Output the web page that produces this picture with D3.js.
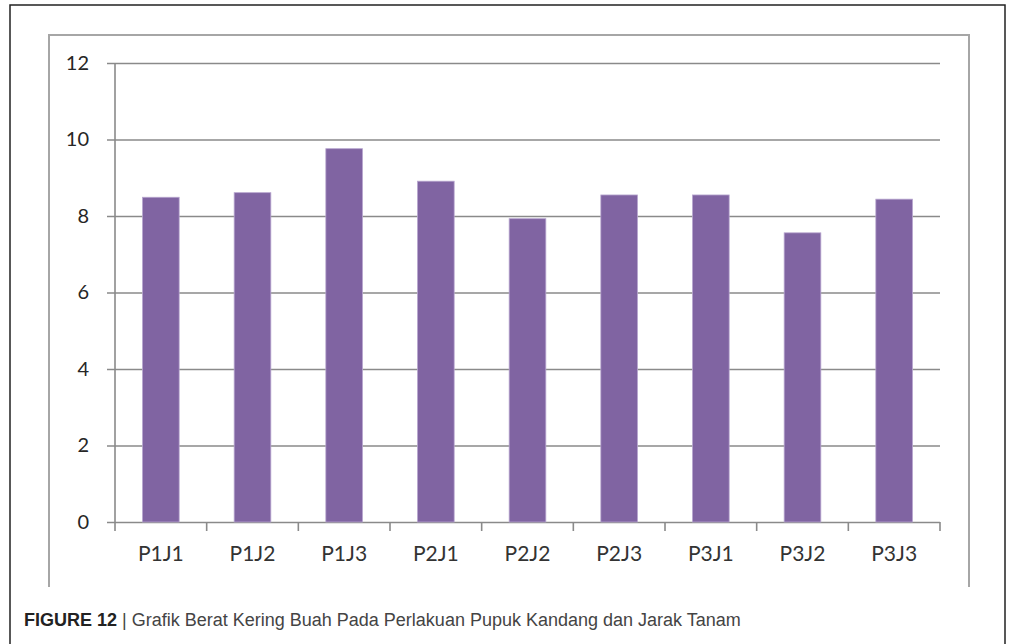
<!DOCTYPE html>
<html>
<head>
<meta charset="utf-8">
<script src="https://cdn.jsdelivr.net/npm/d3@7"></script>
<style>
  body { margin: 0; background: #fff; }
  svg { display: block; }
</style>
</head>
<body>
<svg id="chart" width="1011" height="644"></svg>
<script>
// chart data
const categories = ["P1J1", "P1J2", "P1J3", "P2J1", "P2J2", "P2J3", "P3J1", "P3J2", "P3J3"];
const values = [8.49, 8.61, 9.76, 8.91, 7.93, 8.55, 8.55, 7.56, 8.44];
const yTicks = [0, 2, 4, 6, 8, 10, 12];

const barColor = "#8064A2";
const gridColor = "#8a8a8a";

const svg = d3.select("#chart");

// outer figure frame (bottom is cut off in the original)
svg.append("path")
    .attr("d", "M10,650 L10,5 L1005,5 L1005,650")
    .attr("fill", "none")
    .attr("stroke", "#222")
    .attr("stroke-width", 1.5);

// chart area border (grey, open at the bottom)
svg.append("path")
    .attr("d", "M49,587 L49,35 L969,35 L969,587")
    .attr("fill", "none")
    .attr("stroke", "#a6a6a6")
    .attr("stroke-width", 2);

const plot = {left: 115, right: 940, top: 63, bottom: 522};

const x = d3.scaleBand()
    .domain(categories)
    .range([plot.left, plot.right])
    .padding(0);

const y = d3.scaleLinear()
    .domain([0, 12])
    .range([plot.bottom, plot.top]);

// gridlines + y tick labels: axis sits at the right end, ticks run leftwards
const yAxis = svg.append("g")
    .attr("transform", `translate(${plot.right},0)`)
    .call(d3.axisLeft(y).tickValues(yTicks).tickSize(plot.right - plot.left + 8).tickPadding(18));

yAxis.select(".domain").remove();
yAxis.selectAll(".tick line")
    .attr("stroke", gridColor)
    .attr("stroke-width", 1.6);
yAxis.selectAll(".tick text")
    .attr("fill", "#262626")
    .style("font-family", "Lato, 'Open Sans', sans-serif")
    .style("font-size", "20px");

// vertical value axis line
svg.append("line")
    .attr("x1", plot.left).attr("x2", plot.left)
    .attr("y1", y(12)).attr("y2", y(0))
    .attr("stroke", gridColor)
    .attr("stroke-width", 1.6);

// bars
const barW = x.bandwidth() * 0.4;
svg.append("g")
    .selectAll("rect")
    .data(values)
    .enter()
    .append("rect")
    .attr("x", (d, i) => x(categories[i]) + (x.bandwidth() - barW) / 2)
    .attr("y", d => y(d))
    .attr("width", barW)
    .attr("height", d => y(0) - y(d))
    .attr("fill", barColor)
    .attr("stroke", "#b7a6cf")
    .attr("stroke-width", 0.8);

// category tick marks on the boundaries
const bounds = categories.map(c => x(c)).concat([x.range()[1]]);
svg.append("g")
    .selectAll("line")
    .data(bounds)
    .enter()
    .append("line")
    .attr("x1", d => d).attr("x2", d => d)
    .attr("y1", y(0)).attr("y2", y(0) + 9)
    .attr("stroke", gridColor)
    .attr("stroke-width", 1.6);

// category labels
const xAxis = svg.append("g")
    .attr("transform", `translate(0,${y(0)})`)
    .call(d3.axisBottom(x).tickSize(0).tickPadding(24));
xAxis.select(".domain").remove();
xAxis.selectAll(".tick text")
    .attr("fill", "#333")
    .style("font-family", "Lato, 'Open Sans', sans-serif")
    .style("font-size", "21px");

// caption
const cap = svg.append("text")
    .attr("x", 24)
    .attr("y", 626)
    .style("font-family", "'Liberation Sans', Arial, sans-serif")
    .style("font-size", "18px");
cap.append("tspan")
    .attr("font-weight", "bold")
    .attr("fill", "#222")
    .text("FIGURE 12");
cap.append("tspan")
    .attr("fill", "#444")
    .text(" | Grafik Berat Kering Buah Pada Perlakuan Pupuk Kandang dan Jarak Tanam");
</script>
</body>
</html>
